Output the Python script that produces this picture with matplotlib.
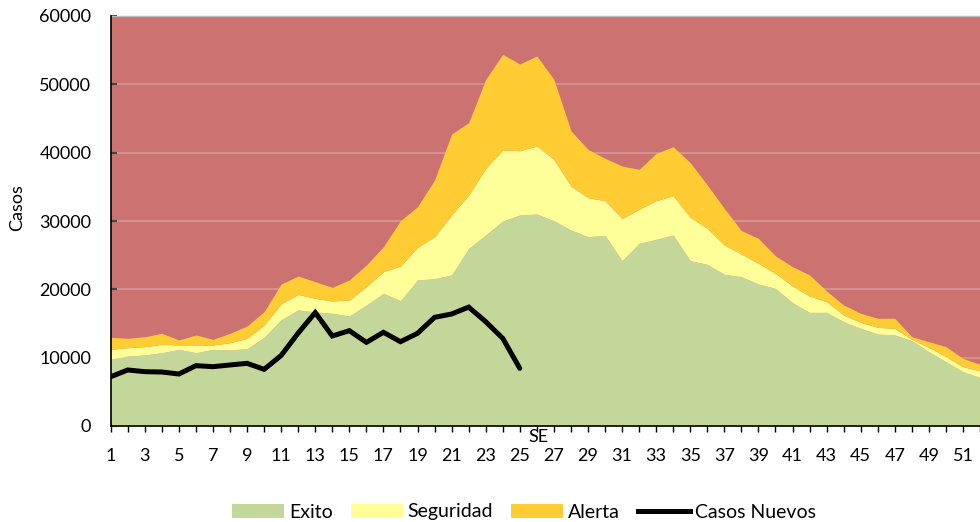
import matplotlib
matplotlib.use("Agg")
import matplotlib.pyplot as plt
from matplotlib.patches import Patch
from matplotlib.lines import Line2D
import numpy as np

plt.rcParams['font.family'] = ['Lato', 'DejaVu Sans']

weeks = list(range(1, 53))

# cumulative upper limits of each zone (stacked area tops)
exito = [9760, 10240, 10390, 10730, 11220, 10730, 11220, 11120, 11320, 12980,
         15560, 16980, 16700, 16490, 16100, 17710, 19410, 18340, 21370, 21560,
         22100, 26000, 27950, 30000, 30880, 31020, 30050, 28680, 27710, 27900,
         24200, 26730, 27320, 27950, 24200, 23660, 22190, 21850, 20780, 20140,
         18050, 16630, 16630, 15270, 14290, 13460, 13320, 12490, 10880, 9410,
         7950, 7100]
seguridad = [11220, 11460, 11610, 11950, 11850, 11850, 11850, 12190, 12830, 14780,
             17900, 19250, 18680, 18290, 18440, 20390, 22590, 23410, 26140, 27710,
             30880, 33800, 37710, 40390, 40290, 40980, 39020, 35120, 33420, 32980,
             30390, 31710, 32980, 33710, 30540, 28930, 26490, 25170, 23800, 22340,
             20490, 19020, 18200, 16240, 15170, 14440, 14290, 12680, 11510, 10150,
             8680, 8100]
alerta = [12980, 12830, 13070, 13560, 12590, 13320, 12680, 13560, 14630, 16730,
          20780, 21950, 21120, 20290, 21370, 23560, 26240, 30050, 32100, 36000,
          42730, 44390, 50730, 54390, 52970, 54150, 50730, 43220, 40490, 39170,
          38050, 37560, 39900, 40880, 38540, 35270, 31850, 28590, 27460, 24900,
          23320, 22100, 19760, 17710, 16490, 15760, 15760, 13070, 12340, 11610,
          9900, 9030]
epidemia_top = 60000

casos_weeks = list(range(1, 26))
casos_nuevos = [7210, 8200, 7950, 7900, 7610, 8830, 8680, 8930, 9170, 8290,
                10320, 13600, 16600, 13170, 13950, 12240, 13710, 12340, 13560, 15900,
                16390, 17400, 15270, 12830, 8440]

C_RED = '#CC7270'
C_GREEN = '#C4D79B'
C_YELLOW = '#FFFF99'
C_ORANGE = '#FFCC33'

W, H = 980, 522
fig = plt.figure(figsize=(W / 100, H / 100), dpi=100)
x0, x1, ytop, ybot = 110.7, 980, 16, 426
ax = fig.add_axes([x0 / W, 1 - ybot / H, (x1 - x0) / W, (ybot - ytop) / H])

ax.set_facecolor(C_RED)
ax.fill_between(weeks, 0, exito, color=C_GREEN, lw=0, zorder=2)
ax.fill_between(weeks, exito, seguridad, color=C_YELLOW, lw=0, zorder=2)
ax.fill_between(weeks, seguridad, alerta, color=C_ORANGE, lw=0, zorder=2)
ax.plot(casos_weeks, casos_nuevos, color='black', lw=3.6, zorder=3,
        solid_joinstyle='miter', solid_capstyle='round')

spacing = 17.17
ax.set_xlim(1, 1 + (x1 - x0) / spacing)
ax.set_ylim(0, epidemia_top)

ax.set_yticks(np.arange(0, 60001, 10000))
ax.set_yticklabels([str(v) for v in range(0, 60001, 10000)])
ax.grid(axis='y', color='#D99A9A', lw=1.1, zorder=1)
ax.set_axisbelow(True)

ax.set_xticks(weeks)
ax.set_xticklabels([str(w) if w % 2 == 1 else '' for w in weeks])

ax.tick_params(axis='y', direction='in', length=4.5, width=1.5, color='#444444',
               labelsize=13, pad=14, labelcolor='black')
ax.tick_params(axis='x', direction='inout', length=9, width=1, color='black',
               labelsize=13, pad=11.5)

ax.spines['right'].set_visible(False)
ax.spines['top'].set_color('#BBBBBB')
ax.spines['top'].set_linewidth(1)
for s in ['left', 'bottom']:
    ax.spines[s].set_color('black')
    ax.spines[s].set_linewidth(1.2)
    ax.spines[s].set_zorder(5)

fig.text(17 / W, 1 - 208 / H, 'Casos', rotation=90, ha='center', va='center', fontsize=13)
fig.text(538 / W, 1 - 437 / H, 'SE', ha='center', va='center', fontsize=13)

handles = [Patch(facecolor=C_GREEN, edgecolor='none', label='Exito'),
           Patch(facecolor=C_YELLOW, edgecolor='none', label='Seguridad'),
           Patch(facecolor=C_ORANGE, edgecolor='none', label='Alerta'),
           Line2D([0], [0], color='black', lw=3.6, label='Casos Nuevos')]
fig.legend(handles=handles, loc='center', bbox_to_anchor=(524 / W, 1 - 512 / H),
           ncol=4, frameon=False, fontsize=14, handlelength=2.67, handleheight=0.7,
           handletextpad=0.26, columnspacing=0.93, borderpad=0.1)

fig.savefig('out.png', dpi=100)
